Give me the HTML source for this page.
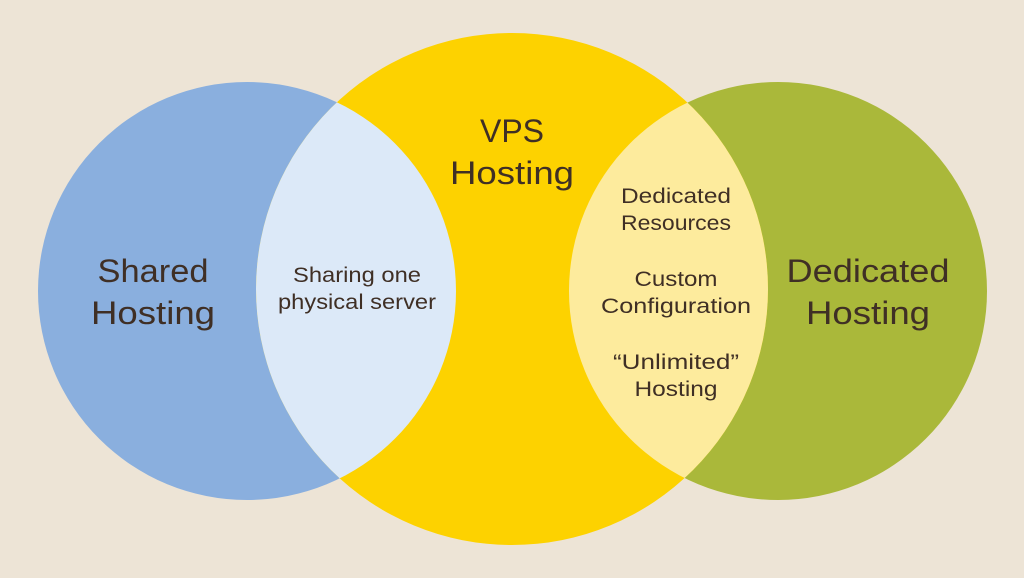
<!DOCTYPE html>
<html><head><meta charset="utf-8"><style>
html,body{margin:0;padding:0;background:#ede4d6;}
svg{display:block;}
text{font-family:"Liberation Sans",sans-serif;fill:#3f2f25;text-anchor:middle;}
</style></head><body>
<svg width="1024" height="578" viewBox="0 0 1024 578">
<defs>
<clipPath id="cl"><circle cx="247" cy="291" r="209"/></clipPath>
<clipPath id="cr"><circle cx="778" cy="291" r="209"/></clipPath>
</defs>
<rect width="1024" height="578" fill="#ede4d6"/>
<circle cx="247" cy="291" r="209" fill="#8aafde"/>
<circle cx="778" cy="291" r="209" fill="#aab83a"/>
<circle cx="512" cy="289" r="256" fill="#fdd200"/>
<circle cx="512" cy="289" r="256" fill="#dce9f8" clip-path="url(#cl)"/>
<circle cx="512" cy="289" r="256" fill="#fdeb9d" clip-path="url(#cr)"/>
<g font-size="32">
<text x="153" y="282" textLength="111" lengthAdjust="spacingAndGlyphs">Shared</text>
<text x="153" y="324" textLength="124" lengthAdjust="spacingAndGlyphs">Hosting</text>
<text x="512" y="142">VPS</text>
<text x="512" y="184" textLength="124" lengthAdjust="spacingAndGlyphs">Hosting</text>
<text x="868" y="282" textLength="163" lengthAdjust="spacingAndGlyphs">Dedicated</text>
<text x="868" y="324" textLength="124" lengthAdjust="spacingAndGlyphs">Hosting</text>
</g>
<g font-size="21">
<text x="357" y="282" textLength="128" lengthAdjust="spacingAndGlyphs">Sharing one</text>
<text x="357" y="309" textLength="158" lengthAdjust="spacingAndGlyphs">physical server</text>
<text x="676" y="203" textLength="110" lengthAdjust="spacingAndGlyphs">Dedicated</text>
<text x="676" y="230" textLength="110" lengthAdjust="spacingAndGlyphs">Resources</text>
<text x="676" y="286" textLength="83" lengthAdjust="spacingAndGlyphs">Custom</text>
<text x="676" y="313" textLength="150" lengthAdjust="spacingAndGlyphs">Configuration</text>
<text x="676" y="369" textLength="126" lengthAdjust="spacingAndGlyphs">“Unlimited”</text>
<text x="676" y="396" textLength="83" lengthAdjust="spacingAndGlyphs">Hosting</text>
</g>
</svg>
</body></html>
